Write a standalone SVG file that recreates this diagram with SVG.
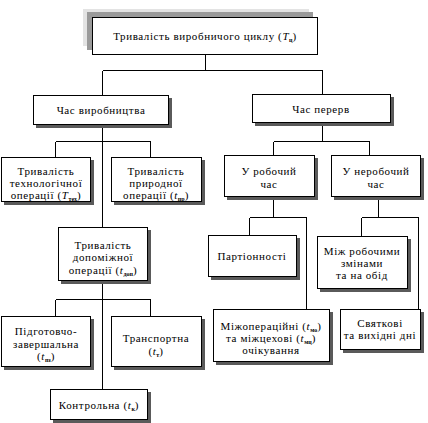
<svg xmlns="http://www.w3.org/2000/svg" width="428" height="423" viewBox="0 0 428 423">
<style>
.box{fill:#fff;stroke:#000;stroke-width:1}
.sh{fill:#5a5a5a}
.ln{fill:none;stroke:#000;stroke-width:1}
.t{font-family:'Liberation Serif','Times New Roman',serif;font-size:11px;letter-spacing:0.6px;fill:#000;text-anchor:middle}
.i{font-style:italic}
.sub{font-size:6px;font-weight:bold;letter-spacing:0}
</style>
<rect width="428" height="423" fill="#fff"/>
<g id="connectors" shape-rendering="crispEdges">
<path class="ln" d="M205.5 55 V70.5 M102.5 70.5 H322.5 M102.5 70.5 V95 M322.5 70.5 V94"/>
<path class="ln" d="M102.5 125 V389 M55.5 141.5 H150.5 M55.5 141.5 V157 M150.5 141.5 V157"/>
<path class="ln" d="M55.5 299.5 H150.5 M55.5 299.5 V316 M150.5 299.5 V316"/>
<path class="ln" d="M322.5 123 V141.5 M273.5 141.5 H369.5 M273.5 141.5 V155 M369.5 141.5 V155"/>
<path class="ln" d="M273.5 197 V217.5 M249.5 217.5 H306.5 M249.5 217.5 V235 M306.5 217.5 V309"/>
<path class="ln" d="M378.5 197 V217.5 M361.5 217.5 H418.5 M361.5 217.5 V236 M418.5 217.5 V309"/>
</g>
<g id="n-total" shape-rendering="crispEdges">
<rect x="83" y="9" width="226" height="37" fill="#e3e3e3"/>
<rect x="87" y="12" width="226" height="38" fill="#9a9a9a"/>
<rect class="box" x="92.5" y="17.5" width="225" height="37"/>
<text class="t" x="205" y="40" font-size="12">Тривалість виробничого циклу (<tspan class="i">T</tspan><tspan class="sub" dy="2">ц</tspan><tspan dy="-2">)</tspan></text>
</g>
<g id="n-prod" shape-rendering="crispEdges">
<rect class="sh" x="36" y="98" width="136" height="30"/>
<rect class="box" x="33.5" y="95.5" width="135" height="29"/>
<text class="t" x="101" y="114">Час виробництва</text>
</g>
<g id="n-breaks" shape-rendering="crispEdges">
<rect class="sh" x="255" y="97" width="139" height="29"/>
<rect class="box" x="252.5" y="94.5" width="138" height="28"/>
<text class="t" x="321" y="113">Час перерв</text>
</g>
<g id="n-tech" shape-rendering="crispEdges">
<rect class="sh" x="4" y="160" width="90" height="45"/>
<rect class="box" x="1.5" y="157.5" width="89" height="44"/>
<text class="t" x="46" y="175">Тривалість</text>
<text class="t" x="46" y="187">технологічної</text>
<text class="t" x="46" y="199">операції (<tspan class="i">T</tspan><tspan class="sub" dy="1.5">тех</tspan><tspan dy="-1.5">)</tspan></text>
</g>
<g id="n-nat" shape-rendering="crispEdges">
<rect class="sh" x="114" y="160" width="91" height="45"/>
<rect class="box" x="111.5" y="157.5" width="90" height="44"/>
<text class="t" x="156" y="175">Тривалість</text>
<text class="t" x="156" y="187">природної</text>
<text class="t" x="156" y="199">операції (<tspan class="i">t</tspan><tspan class="sub" dy="1.5">пр</tspan><tspan dy="-1.5">)</tspan></text>
</g>
<g id="n-work" shape-rendering="crispEdges">
<rect class="sh" x="227" y="158" width="91" height="42"/>
<rect class="box" x="224.5" y="155.5" width="90" height="41"/>
<text class="t" x="269" y="175">У робочий</text>
<text class="t" x="269" y="188">час</text>
</g>
<g id="n-nonwork" shape-rendering="crispEdges">
<rect class="sh" x="334" y="158" width="90" height="42"/>
<rect class="box" x="331.5" y="155.5" width="89" height="41"/>
<text class="t" x="376" y="175">У неробочий</text>
<text class="t" x="376" y="188">час</text>
</g>
<g id="n-aux" shape-rendering="crispEdges">
<rect class="sh" x="61" y="230" width="90" height="54"/>
<rect class="box" x="58.5" y="227.5" width="89" height="53"/>
<text class="t" x="103" y="249">Тривалість</text>
<text class="t" x="103" y="261">допоміжної</text>
<text class="t" x="103" y="274">операції (<tspan class="i">t</tspan><tspan class="sub" dy="1.5">доп</tspan><tspan dy="-1.5">)</tspan></text>
</g>
<g id="n-prep" shape-rendering="crispEdges">
<rect class="sh" x="4" y="319" width="90" height="51"/>
<rect class="box" x="1.5" y="316.5" width="89" height="50"/>
<text class="t" x="46" y="335">Підготовчо-</text>
<text class="t" x="46" y="348">завершальна</text>
<text class="t" x="46" y="360">(<tspan class="i">t</tspan><tspan class="sub" dy="1.5">пз</tspan><tspan dy="-1.5">)</tspan></text>
</g>
<g id="n-transport" shape-rendering="crispEdges">
<rect class="sh" x="114" y="319" width="91" height="51"/>
<rect class="box" x="111.5" y="316.5" width="90" height="50"/>
<text class="t" x="156" y="342">Транспортна</text>
<text class="t" x="156" y="355">(<tspan class="i">t</tspan><tspan class="sub" dy="1.5">т</tspan><tspan dy="-1.5">)</tspan></text>
</g>
<g id="n-control" shape-rendering="crispEdges">
<rect class="sh" x="53" y="392" width="98" height="31"/>
<rect class="box" x="50.5" y="389.5" width="97" height="30"/>
<text class="t" x="99" y="409">Контрольна (<tspan class="i">t</tspan><tspan class="sub" dy="1.5">к</tspan><tspan dy="-1.5">)</tspan></text>
</g>
<g id="n-batch" shape-rendering="crispEdges">
<rect class="sh" x="211" y="238" width="89" height="42"/>
<rect class="box" x="208.5" y="235.5" width="88" height="41"/>
<text class="t" x="252" y="260">Партіонності</text>
</g>
<g id="n-shifts" shape-rendering="crispEdges">
<rect class="sh" x="320" y="239" width="91" height="53"/>
<rect class="box" x="317.5" y="236.5" width="90" height="52"/>
<text class="t" x="362" y="255">Між робочими</text>
<text class="t" x="362" y="267">змінами</text>
<text class="t" x="362" y="279">та на обід</text>
</g>
<g id="n-interop" shape-rendering="crispEdges">
<rect class="sh" x="216" y="312" width="117" height="53"/>
<rect class="box" x="213.5" y="309.5" width="116" height="52"/>
<text class="t" x="271" y="330">Міжопераційні (<tspan class="i">t</tspan><tspan class="sub" dy="1.5">мо</tspan><tspan dy="-1.5">)</tspan></text>
<text class="t" x="271" y="342">та міжцехові (<tspan class="i">t</tspan><tspan class="sub" dy="1.5">мц</tspan><tspan dy="-1.5">)</tspan></text>
<text class="t" x="271" y="354">очікування</text>
</g>
<g id="n-holidays" shape-rendering="crispEdges">
<rect class="sh" x="343" y="312" width="81" height="41"/>
<rect class="box" x="340.5" y="309.5" width="80" height="40"/>
<text class="t" x="380" y="327">Святкові</text>
<text class="t" x="380" y="339">та вихідні дні</text>
</g>
</svg>
